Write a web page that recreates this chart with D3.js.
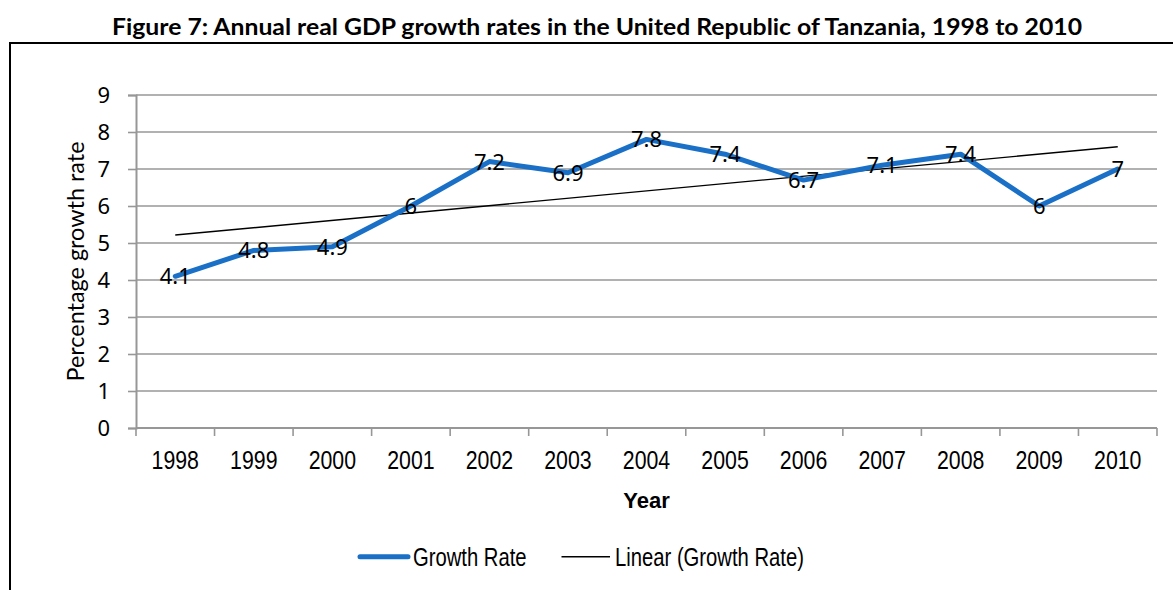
<!DOCTYPE html>
<html>
<head>
<meta charset="utf-8">
<script src="https://cdn.jsdelivr.net/npm/d3@7/dist/d3.min.js"></script>
<style>
  html, body { margin: 0; padding: 0; background: #ffffff; }
  svg { display: block; }
</style>
</head>
<body>
<svg id="chart" width="1173" height="590"></svg>
<script>
// Annual real GDP growth (%) for Tanzania
const years = ["1998", "1999", "2000", "2001", "2002", "2003", "2004",
               "2005", "2006", "2007", "2008", "2009", "2010"];
const growthRate = [4.1, 4.8, 4.9, 6, 7.2, 6.9, 7.8, 7.4, 6.7, 7.1, 7.4, 6, 7];
const yTicks = [0, 1, 2, 3, 4, 5, 6, 7, 8, 9];

const titleText = "Figure 7: Annual real GDP growth rates in the United Republic of Tanzania, 1998 to 2010";
const yTitle = "Percentage growth rate";
const xTitle = "Year";
const seriesName = "Growth Rate";
const trendName = "Linear (Growth Rate)";

const svg = d3.select("#chart");
const W = 1173, H = 590;
const plot = { left: 136, right: 1157, top: 95, bottom: 428 };

const gridColor = "#979797";
const blue = "#1a70c6";
const calibriLike = "Lato, 'Noto Sans', sans-serif";
const numberFont = "'Noto Sans', 'Open Sans', sans-serif";
const arialLike = "'Liberation Sans', Arial, sans-serif";
const narrow = 0.82;

// Chart frame
svg.append("rect")
  .attr("x", 10).attr("y", 43)
  .attr("width", W + 10).attr("height", H)
  .attr("fill", "#ffffff")
  .attr("stroke", "#000").attr("stroke-width", 2);

// Title
svg.append("text")
  .attr("x", 597).attr("y", 35)
  .attr("text-anchor", "middle")
  .attr("font-family", calibriLike)
  .attr("font-weight", "bold")
  .attr("font-size", 22)
  .attr("textLength", 970)
  .attr("lengthAdjust", "spacingAndGlyphs")
  .attr("fill", "#000")
  .text(titleText);

const x = d3.scaleBand().domain(years).range([plot.left, plot.right]);
const y = d3.scaleLinear().domain([0, 9]).range([plot.bottom, plot.top]);

// Plot area
svg.append("rect")
  .attr("x", plot.left).attr("y", plot.top)
  .attr("width", plot.right - plot.left).attr("height", plot.bottom - plot.top)
  .attr("fill", "#ffffff");

// Horizontal gridlines
svg.append("g").selectAll("line")
  .data(yTicks.filter(d => d > 0))
  .join("line")
  .attr("x1", plot.left).attr("x2", plot.right)
  .attr("y1", d => y(d)).attr("y2", d => y(d))
  .attr("stroke", gridColor).attr("stroke-width", 1.6);

// Y axis
const yAxis = svg.append("g")
  .attr("transform", `translate(${plot.left},0)`)
  .call(d3.axisLeft(y).tickValues(yTicks).tickFormat(d3.format("d"))
        .tickSize(8).tickPadding(18));
yAxis.select(".domain").attr("stroke", gridColor).attr("stroke-width", 2);
yAxis.selectAll(".tick line").attr("stroke", gridColor).attr("stroke-width", 1.6);
yAxis.selectAll(".tick text")
  .attr("font-family", numberFont).attr("font-size", 22)
  .attr("fill", "#000").attr("dy", "0.36em");

// X axis: labels centred in each category, tick marks on the category boundaries
const xAxis = svg.append("g")
  .attr("transform", `translate(0,${plot.bottom})`)
  .call(d3.axisBottom(x).tickSize(0).tickPadding(0));
xAxis.select(".domain").remove();
xAxis.selectAll(".tick text")
  .attr("y", 41).attr("dy", 0)
  .attr("transform", `scale(${narrow},1)`)
  .attr("font-family", arialLike).attr("font-size", 26)
  .attr("fill", "#000");

svg.append("line")
  .attr("x1", plot.left).attr("x2", plot.right)
  .attr("y1", plot.bottom).attr("y2", plot.bottom)
  .attr("stroke", gridColor).attr("stroke-width", 2);

const boundaries = years.map(d => x(d)).concat([x.range()[1]]);
svg.append("g").selectAll("line")
  .data(boundaries)
  .join("line")
  .attr("x1", d => d).attr("x2", d => d)
  .attr("y1", plot.bottom).attr("y2", plot.bottom + 8)
  .attr("stroke", gridColor).attr("stroke-width", 1.6);

// Axis titles
svg.append("text")
  .attr("transform", `translate(83.5,${(plot.top + plot.bottom) / 2}) rotate(-90)`)
  .attr("text-anchor", "middle")
  .attr("font-family", calibriLike).attr("font-size", 24)
  .attr("textLength", 240).attr("lengthAdjust", "spacingAndGlyphs")
  .attr("fill", "#000")
  .text(yTitle);

svg.append("text")
  .attr("x", (plot.left + plot.right) / 2).attr("y", 508)
  .attr("text-anchor", "middle")
  .attr("font-family", arialLike).attr("font-weight", "bold").attr("font-size", 22)
  .attr("fill", "#000")
  .text(xTitle);

// Least-squares trend line over the category index
const idx = growthRate.map((_, i) => i);
const mx = d3.mean(idx), my = d3.mean(growthRate);
const slope = d3.sum(idx, i => (i - mx) * (growthRate[i] - my)) /
              d3.sum(idx, i => (i - mx) * (i - mx));
const intercept = my - slope * mx;
const trend = [0, years.length - 1].map(i => ({ year: years[i], v: intercept + slope * i }));

const cx = d => x(d) + x.bandwidth() / 2;

svg.append("path")
  .datum(trend)
  .attr("fill", "none").attr("stroke", "#000").attr("stroke-width", 1.4)
  .attr("d", d3.line().x(d => cx(d.year)).y(d => y(d.v)));

// Growth rate series
const series = years.map((yr, i) => ({ year: yr, v: growthRate[i] }));
svg.append("path")
  .datum(series)
  .attr("fill", "none").attr("stroke", blue).attr("stroke-width", 5)
  .attr("stroke-linejoin", "round").attr("stroke-linecap", "round")
  .attr("d", d3.line().x(d => cx(d.year)).y(d => y(d.v)));

// Value labels centred on each point
svg.append("g").selectAll("text")
  .data(series)
  .join("text")
  .attr("x", d => cx(d.year))
  .attr("y", d => y(d.v) + 8)
  .attr("text-anchor", "middle")
  .attr("font-family", numberFont).attr("font-size", 22)
  .attr("fill", "#000")
  .text(d => d3.format("")(d.v));

// Legend
const legendY = 556.7;
const legend = svg.append("g");
legend.append("line")
  .attr("x1", 360).attr("x2", 408)
  .attr("y1", legendY).attr("y2", legendY)
  .attr("stroke", blue).attr("stroke-width", 5).attr("stroke-linecap", "round");
legend.append("text")
  .attr("transform", `translate(413,565.5) scale(0.81,1)`)
  .attr("font-family", arialLike).attr("font-size", 25).attr("fill", "#000")
  .text(seriesName);
legend.append("line")
  .attr("x1", 561.5).attr("x2", 610)
  .attr("y1", legendY).attr("y2", legendY)
  .attr("stroke", "#000").attr("stroke-width", 1.4);
legend.append("text")
  .attr("transform", `translate(615,565.5) scale(0.81,1)`)
  .attr("font-family", arialLike).attr("font-size", 25).attr("fill", "#000")
  .text(trendName);
</script>
</body>
</html>
